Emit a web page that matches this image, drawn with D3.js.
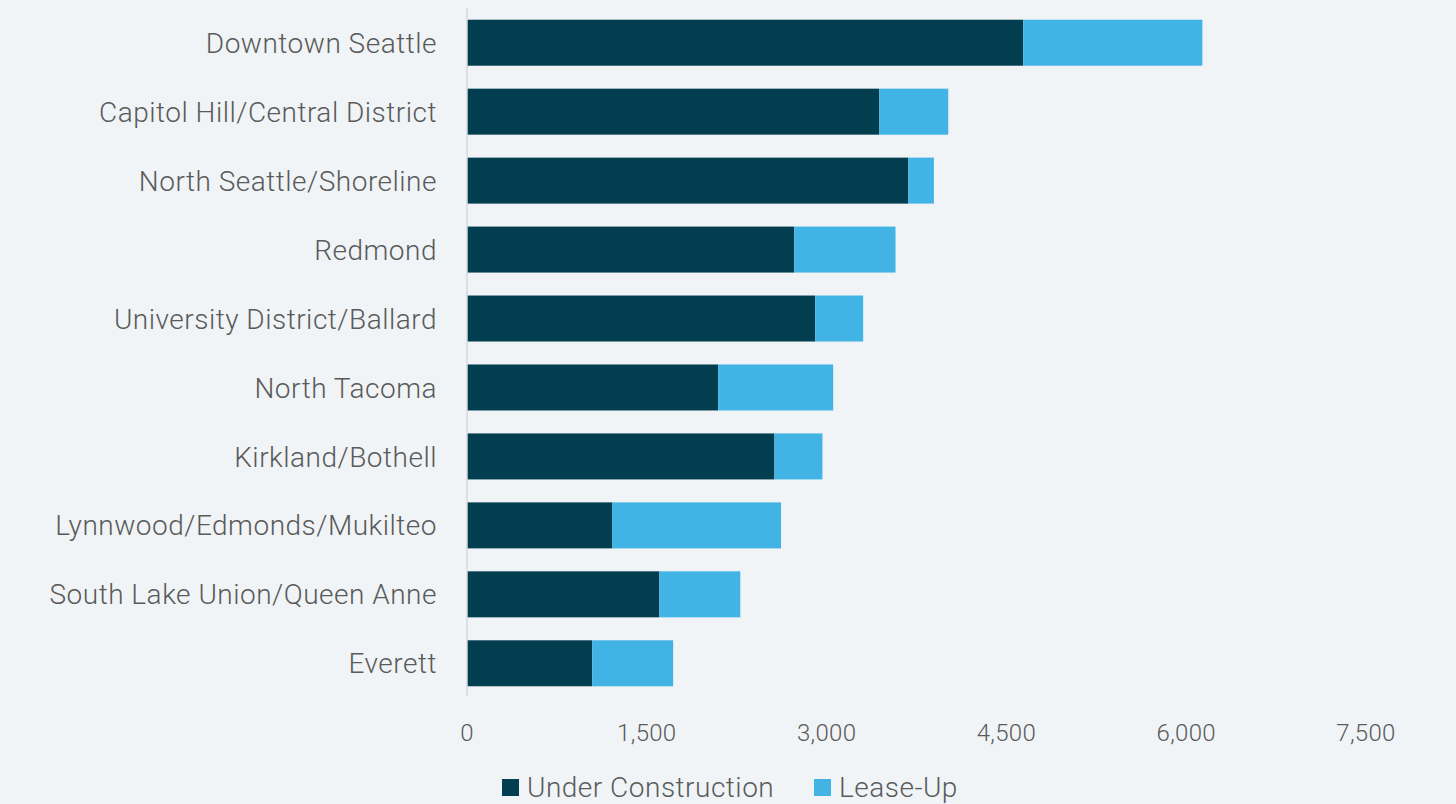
<!DOCTYPE html>
<html>
<head>
<meta charset="utf-8">
<script src="https://cdn.jsdelivr.net/npm/d3@7"></script>
<style>
  html, body { margin: 0; padding: 0; background: #f0f4f6; }
  text { font-family: Roboto, "Noto Sans", sans-serif; fill: #5a5a5a; }
</style>
</head>
<body>
<div id="chart"></div>
<script>
var submarkets = ["Downtown Seattle", "Capitol Hill/Central District", "North Seattle/Shoreline",
    "Redmond", "University District/Ballard", "North Tacoma", "Kirkland/Bothell",
    "Lynnwood/Edmonds/Mukilteo", "South Lake Union/Queen Anne", "Everett"];
var underConstruction = [4640, 3440, 3680, 2730, 2905, 2095, 2565, 1210, 1605, 1045];
var leaseUp = [1495, 575, 215, 845, 400, 960, 400, 1410, 675, 675];
var seriesNames = ["Under Construction", "Lease-Up"];
var seriesColors = ["#023e50", "#41b4e5"];
var xTicks = [0, 1500, 3000, 4500, 6000, 7500];

var width = 1456, height = 804;
var svg = d3.select("#chart").append("svg")
    .attr("width", width)
    .attr("height", height);

var x = d3.scaleLinear()
    .domain([0, 7500])
    .range([467, 1366]);

var y = d3.scaleBand()
    .domain(submarkets)
    .range([8, 698])
    .paddingInner(0.333)
    .paddingOuter(0.17);

var rows = submarkets.map(function (d, i) {
    return { name: d, uc: underConstruction[i], lu: leaseUp[i] };
});
var stacked = d3.stack().keys(["uc", "lu"])(rows);

svg.append("g")
    .selectAll("g")
    .data(stacked)
    .join("g")
    .attr("fill", function (d, i) { return seriesColors[i]; })
    .selectAll("rect")
    .data(function (d) { return d; })
    .join("rect")
    .attr("x", function (d) { return x(d[0]); })
    .attr("width", function (d) { return x(d[1]) - x(d[0]); })
    .attr("y", function (d) { return y(d.data.name); })
    .attr("height", y.bandwidth());

// vertical axis line
svg.append("line")
    .attr("x1", x(0)).attr("x2", x(0))
    .attr("y1", 8).attr("y2", 696)
    .attr("stroke", "#d6dadc")
    .attr("stroke-width", 1.5);

// category labels
svg.append("g")
    .selectAll("text")
    .data(submarkets)
    .join("text")
    .attr("x", 437)
    .attr("y", function (d) { return y(d) + y.bandwidth() / 2; })
    .attr("dy", "0.36em")
    .attr("text-anchor", "end")
    .style("font-size", "28px")
    .style("letter-spacing", "0.5px")
    .style("font-weight", 300)
    .text(function (d) { return d; });

// x tick labels
svg.append("g")
    .selectAll("text")
    .data(xTicks)
    .join("text")
    .attr("x", function (d) { return x(d); })
    .attr("y", 741)
    .attr("text-anchor", "middle")
    .style("font-size", "24px")
    .style("letter-spacing", "0.3px")
    .style("font-weight", 300)
    .text(function (d) { return d3.format(",")(d); });

// legend
var legend = svg.append("g");
var legendX = [502, 814];
seriesNames.forEach(function (name, i) {
    legend.append("rect")
        .attr("x", legendX[i]).attr("y", 779)
        .attr("width", 17).attr("height", 17)
        .attr("fill", seriesColors[i]);
    legend.append("text")
        .attr("x", legendX[i] + 25)
        .attr("y", 797)
        .style("font-size", "28px")
        .style("letter-spacing", "0.5px")
        .style("font-weight", 300)
        .text(name);
});
</script>
</body>
</html>
